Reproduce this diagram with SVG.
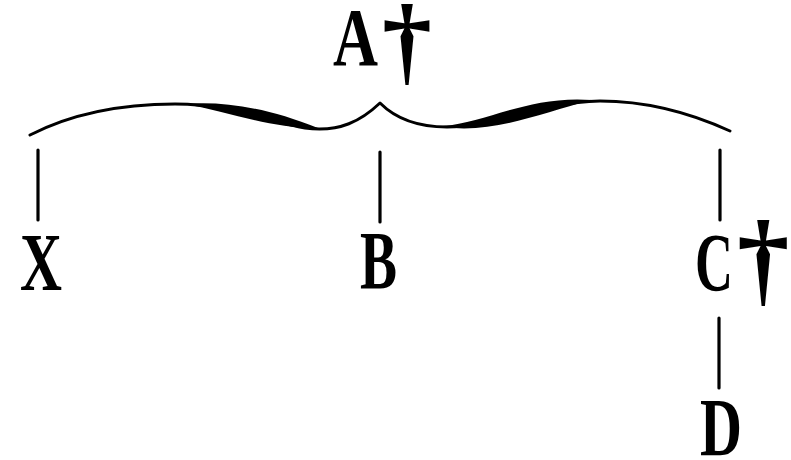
<svg xmlns="http://www.w3.org/2000/svg" width="791" height="460" viewBox="0 0 791 460">
<style>
.lbl{font-family:"Liberation Serif","Times New Roman",serif;font-weight:bold;font-size:82px;fill:#000}
.dag{font-family:"Liberation Serif","Times New Roman",serif;font-weight:bold;fill:#000}
.ln{stroke:#000;stroke-width:3.2;stroke-linecap:round;fill:none}
.br{stroke:#000;stroke-width:3;stroke-linecap:round;stroke-linejoin:round;fill:none}
.lens{fill:#000;stroke:none}
</style>
<rect width="791" height="460" fill="#fff"/>
<g id="connectors">
<path class="br" d="M30,135 C75,112 125,104 175,104 C230,104 270,122 305,128 C340,133 362,120 380,103 C395,118 415,127 447,127 C490,127 540,102 600,101 C650,101 695,115 730,131"/>
<path class="lens" d="M185,104 C225,101 268,108 318,128 C275,129 228,112 185,104 Z"/>
<path class="lens" d="M443,126 C485,123 530,95 592,100 C540,113 495,134 443,127 Z"/>
<line class="ln" x1="38" y1="150" x2="38" y2="220"/>
<line class="ln" x1="380" y1="152" x2="380" y2="222"/>
<line class="ln" x1="720" y1="150" x2="720" y2="220"/>
<line class="ln" x1="719" y1="318" x2="719" y2="388"/>
</g>
<g id="node-A">
<text class="lbl" x="333" y="65" textLength="45" lengthAdjust="spacingAndGlyphs">A</text>
<text class="dag" x="382" y="73" font-size="100">†</text>
</g>
<g id="node-X">
<text class="lbl" x="20" y="290" textLength="42" lengthAdjust="spacingAndGlyphs">X</text>
</g>
<g id="node-B">
<text class="lbl" x="360" y="288" textLength="37" lengthAdjust="spacingAndGlyphs">B</text>
</g>
<g id="node-C">
<text class="lbl" x="695" y="290" textLength="38" lengthAdjust="spacingAndGlyphs">C</text>
<text class="dag" x="737" y="294" font-size="105">†</text>
</g>
<g id="node-D">
<text class="lbl" x="700" y="455" textLength="42" lengthAdjust="spacingAndGlyphs">D</text>
</g>
</svg>
